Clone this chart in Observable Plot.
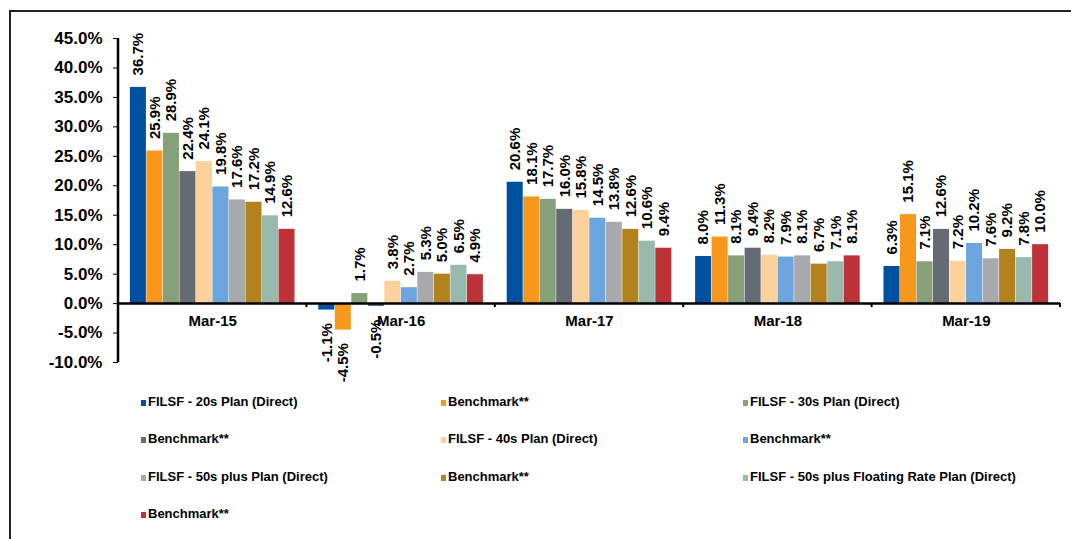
<!DOCTYPE html>
<html><head><meta charset="utf-8">
<script src="https://cdn.jsdelivr.net/npm/d3@7"></script>
<script src="https://cdn.jsdelivr.net/npm/@observablehq/plot@0.6"></script>
<style>
body{margin:0;background:#fff;font-family:Arial,"Liberation Sans",sans-serif;}
#wrap{position:relative;width:1071px;height:539px;overflow:hidden;background:#fff;}
#frame{position:absolute;left:9px;top:10px;width:1080px;height:560px;border-top:2px solid #222;border-left:2px solid #222;}
#chart{position:absolute;left:0;top:0;}
.li{position:absolute;font-size:13px;font-weight:bold;color:#000;white-space:nowrap;line-height:16px;}
.sw{display:inline-block;width:5px;height:6px;margin-right:2px;vertical-align:0px;}
</style></head>
<body>
<div id="wrap"><div id="frame"></div><div id="chart"></div><div id="legend"></div></div>
<script>
const periods = ["Mar-15","Mar-16","Mar-17","Mar-18","Mar-19"];
const seriesIds = ["s0","s1","s2","s3","s4","s5","s6","s7","s8","s9"];
const seriesNames = ["FILSF - 20s Plan (Direct)","Benchmark**","FILSF - 30s Plan (Direct)","Benchmark**","FILSF - 40s Plan (Direct)","Benchmark**","FILSF - 50s plus Plan (Direct)","Benchmark**","FILSF - 50s plus Floating Rate Plan (Direct)","Benchmark**"];
const seriesColors = ["#0050A0","#F7981D","#86A07A","#646B73","#FCD19C","#6DA6DE","#A7A9AC","#B1821E","#97BAAD","#BD3239"];
const s0 = [36.7, -1.1, 20.6, 8.0, 6.3];
const s1 = [25.9, -4.5, 18.1, 11.3, 15.1];
const s2 = [28.9, 1.7, 17.7, 8.1, 7.1];
const s3 = [22.4, -0.5, 16.0, 9.4, 12.6];
const s4 = [24.1, 3.8, 15.8, 8.2, 7.2];
const s5 = [19.8, 2.7, 14.5, 7.9, 10.2];
const s6 = [17.6, 5.3, 13.8, 8.1, 7.6];
const s7 = [17.2, 5.0, 12.6, 6.7, 9.2];
const s8 = [14.9, 6.5, 10.6, 7.1, 7.8];
const s9 = [12.6, 4.9, 9.4, 8.1, 10.0];
const yTicks = [-10,-5,0,5,10,15,20,25,30,35,40,45];

const seriesValues = [s0,s1,s2,s3,s4,s5,s6,s7,s8,s9];
const rows = [];
seriesIds.forEach((id, i) => periods.forEach((p, j) => rows.push({id, period: p, value: seriesValues[i][j]})));
const fmt = v => v.toFixed(1) + "%";

const plot = Plot.plot({
  width: 1071, height: 400,
  marginLeft: 118, marginRight: 11, marginTop: 38, marginBottom: 38,
  style: {fontFamily: "Arial, 'Liberation Sans', sans-serif", fontWeight: "bold", fontSize: "17px", color: "#000", background: "transparent"},
  fx: {domain: periods, padding: 0, round: false, axis: null},
  x: {domain: seriesIds, paddingInner: 0.03, paddingOuter: 0.72, round: false, axis: null},
  y: {domain: [-10, 45], ticks: yTicks, tickFormat: fmt, tickSize: 5, tickPadding: 11, label: null},
  color: {domain: seriesIds, range: seriesColors},
  marks: [
    Plot.barY(rows, {fx: "period", x: "id", y: "value", fill: "id"}),
    Plot.ruleY([0], {stroke: "#000", strokeWidth: 2.5}),
    Plot.text(rows.filter(d => d.value >= 0), {fx: "period", x: "id", y: "value", text: d => fmt(d.value), rotate: -90, textAnchor: "start", dy: -12, fontSize: 15, fontWeight: "bold", fill: "#000"}),
    Plot.text(rows.filter(d => d.value < 0), {fx: "period", x: "id", y: "value", text: d => fmt(d.value), rotate: -90, textAnchor: "end", dy: 13, fontSize: 15, fontWeight: "bold", fill: "#000"}),
    Plot.text(periods.map(p => ({period: p})), {fx: "period", y: () => 0, text: "period", dy: 18, fontSize: 15, fontWeight: "bold", fill: "#000"})
  ]
});
document.getElementById("chart").appendChild(plot);

// axis line and category boundary ticks, drawn through the plot's own scales
const ys = plot.scale("y"), fxs = plot.scale("fx");
const yAt = v => ys.apply(v);
const fxScale = d3.scaleBand().domain(fxs.domain).range(fxs.range).paddingInner(fxs.paddingInner ?? 0).paddingOuter(fxs.paddingOuter ?? 0);
const svg = d3.select(plot.tagName.toLowerCase() === "svg" ? plot : plot.querySelector("svg"));
const left = fxScale(periods[0]);
svg.append("line").attr("x1", left).attr("x2", left).attr("y1", yAt(45)).attr("y2", yAt(-10)).attr("stroke", "#000").attr("stroke-width", 2.5);
periods.forEach(p => {
  const xb = fxScale(p) + fxScale.bandwidth();
  svg.append("line").attr("x1", xb).attr("x2", xb).attr("y1", yAt(0)).attr("y2", yAt(0) + 4).attr("stroke", "#000").attr("stroke-width", 2);
});

// legend
const legend = document.getElementById("legend");
const colLeft = [141, 441, 743];
seriesNames.forEach((name, i) => {
  const el = document.createElement("div");
  el.className = "li";
  el.style.left = colLeft[i % 3] + "px";
  el.style.top = (394 + Math.floor(i / 3) * 37.3) + "px";
  el.innerHTML = `<span class="sw" style="background:${seriesColors[i]}"></span>${name}`;
  legend.appendChild(el);
});
</script>
</body></html>
